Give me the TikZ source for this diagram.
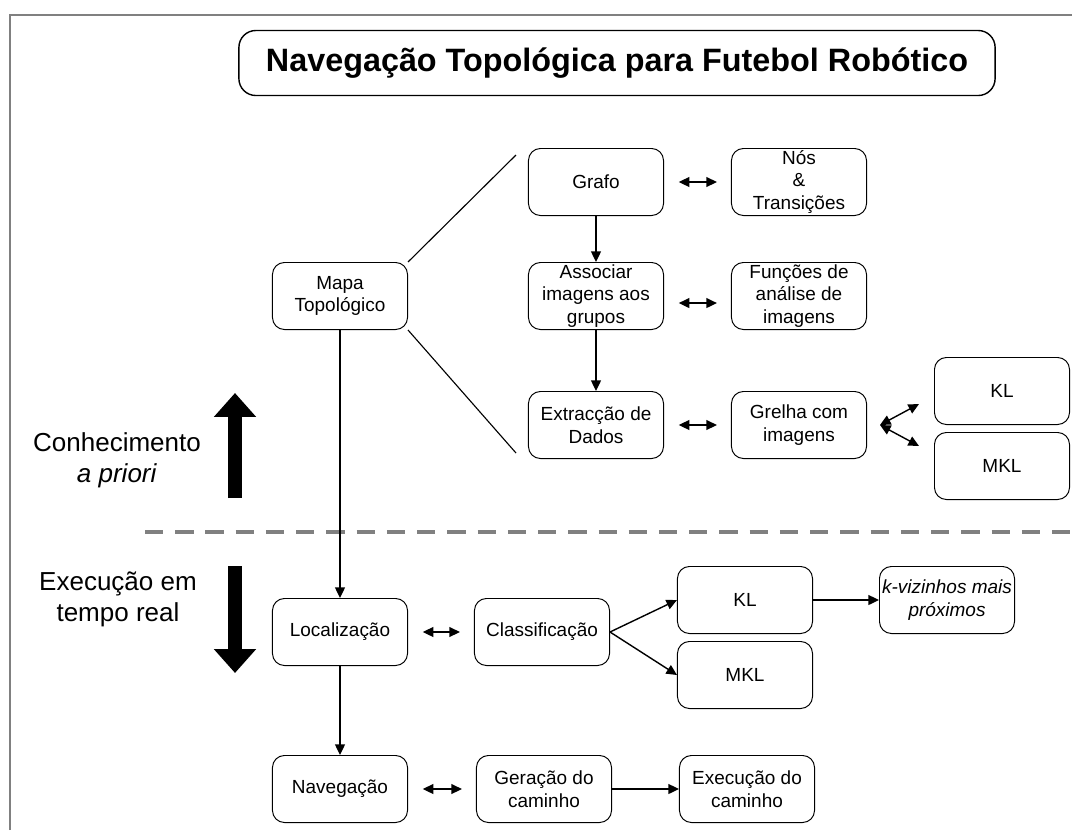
\documentclass[tikz,border=0pt]{standalone}
\usepackage{fontspec}
\setmainfont{Liberation Sans}
\usetikzlibrary{arrows.meta, positioning, calc}

\definecolor{framegray}{RGB}{128,128,128}

\tikzset{
    box/.style={draw, line width=0.7pt, rounded corners=8.5pt, minimum width=3.375cm,
        minimum height=1.675cm, align=center, inner sep=1pt,
        font=\fontsize{13.5}{16}\selectfont},
    arr/.style={line width=1pt, -{Triangle[length=7.5pt,width=7pt]}},
    dbl/.style={line width=1pt, {Triangle[length=7.5pt,width=7pt]}-{Triangle[length=7.5pt,width=7pt]}},
    side/.style={align=center, font=\fontsize{18.5}{22}\selectfont},
    bigarrow/.style={line width=10pt, -{Triangle[length=17pt,width=29pt]}},
}

\begin{document}
\begin{tikzpicture}[x=0.025cm, y=-0.025cm]
    \useasboundingbox (0,0) rectangle (1072,830);

    % Frame
    \draw[framegray, line width=1.2pt] (10,830) -- (10,15) -- (1072,15);

    % Title
    \node[draw, line width=1pt, rounded corners=12pt, minimum width=18.9cm, minimum height=1.625cm,
        font=\bfseries\fontsize{23}{28}\selectfont] (title) at (617,63)
        {Navegação Topológica para Futebol Robótico};

    % Conhecimento a priori
    \node[box] (mapa) at (340,296) {Mapa\\Topológico};
    \node[box] (grafo) at (596,182) {Grafo};
    \node[box] (nos) at (799,182) {Nós\\\&\\Transições};
    \node[box] (assoc) at (596,296) {Associar\\imagens aos\\grupos};
    \node[box] (funcoes) at (799,296) {Funções de\\análise de\\imagens};
    \node[box] (extr) at (596,425) {Extracção de\\Dados};
    \node[box] (grelha) at (799,425) {Grelha com\\imagens};
    \node[box] (kla) at (1002,391) {KL};
    \node[box] (mkla) at (1002,466) {MKL};

    \draw[line width=0.8pt] (mapa.north east) -- ([shift={(-12,7)}]grafo.north west);
    \draw[line width=0.8pt] (mapa.south east) -- ([shift={(-12,-6)}]extr.south west);
    \draw[arr] (grafo) -- (assoc);
    \draw[arr] (assoc) -- (extr);
    \draw[dbl, shorten <=10.5pt, shorten >=10pt] (grafo) -- (nos);
    \draw[dbl, shorten <=10.5pt, shorten >=10pt] ([yshift=-5]assoc.east) -- ([yshift=-5]funcoes.west);
    \draw[dbl, shorten <=10.5pt, shorten >=10pt] (extr) -- (grelha);

    % Fork to KL / MKL
    \coordinate (fork) at (880,425);
    \coordinate (tokla) at (919,404);
    \coordinate (tomkla) at (919,446);
    \draw[dbl] (fork) -- (tokla);
    \draw[dbl] (fork) -- (tomkla);

    % Side labels and big arrows
    \node[side] (conhec) at (117,460) {Conhecimento\\\textit{a priori}};
    \node[side] (exec) at (118,599) {Execução em\\tempo real};
    \draw[bigarrow] (235,498) -- (235,393);
    \draw[bigarrow] (235,566) -- (235,673);

    % Dashed separator
    \draw[framegray, line width=2.2pt, dash pattern=on 13pt off 8.5pt] (145,532) -- (1072,532);

    % Execucao em tempo real
    \node[box] (loc) at (340,632) {Localização};
    \node[box] (classif) at (542,632) {Classificação};
    \node[box] (klb) at (745,600) {KL};
    \node[box] (mklb) at (745,675) {MKL};
    \node[box] (knn) at (947,600) {\textit{k-vizinhos mais}\\\textit{próximos}};
    \node[box] (nav) at (340,789) {Navegação};
    \node[box] (gera) at (544,789) {Geração do\\caminho};
    \node[box] (execc) at (747,789) {Execução do\\caminho};

    \draw[arr] (mapa) -- (loc);
    \draw[arr] (loc) -- (nav);
    \draw[dbl, shorten <=10.5pt, shorten >=10pt] (loc) -- (classif);
    \draw[dbl, shorten <=10.5pt, shorten >=10pt] (nav) -- (gera);
    \draw[arr] (classif.east) -- (klb.west);
    \draw[arr] (classif.east) -- (mklb.west);
    \draw[arr] (klb) -- (knn);
    \draw[arr] (gera) -- (execc);
\end{tikzpicture}
\end{document}
